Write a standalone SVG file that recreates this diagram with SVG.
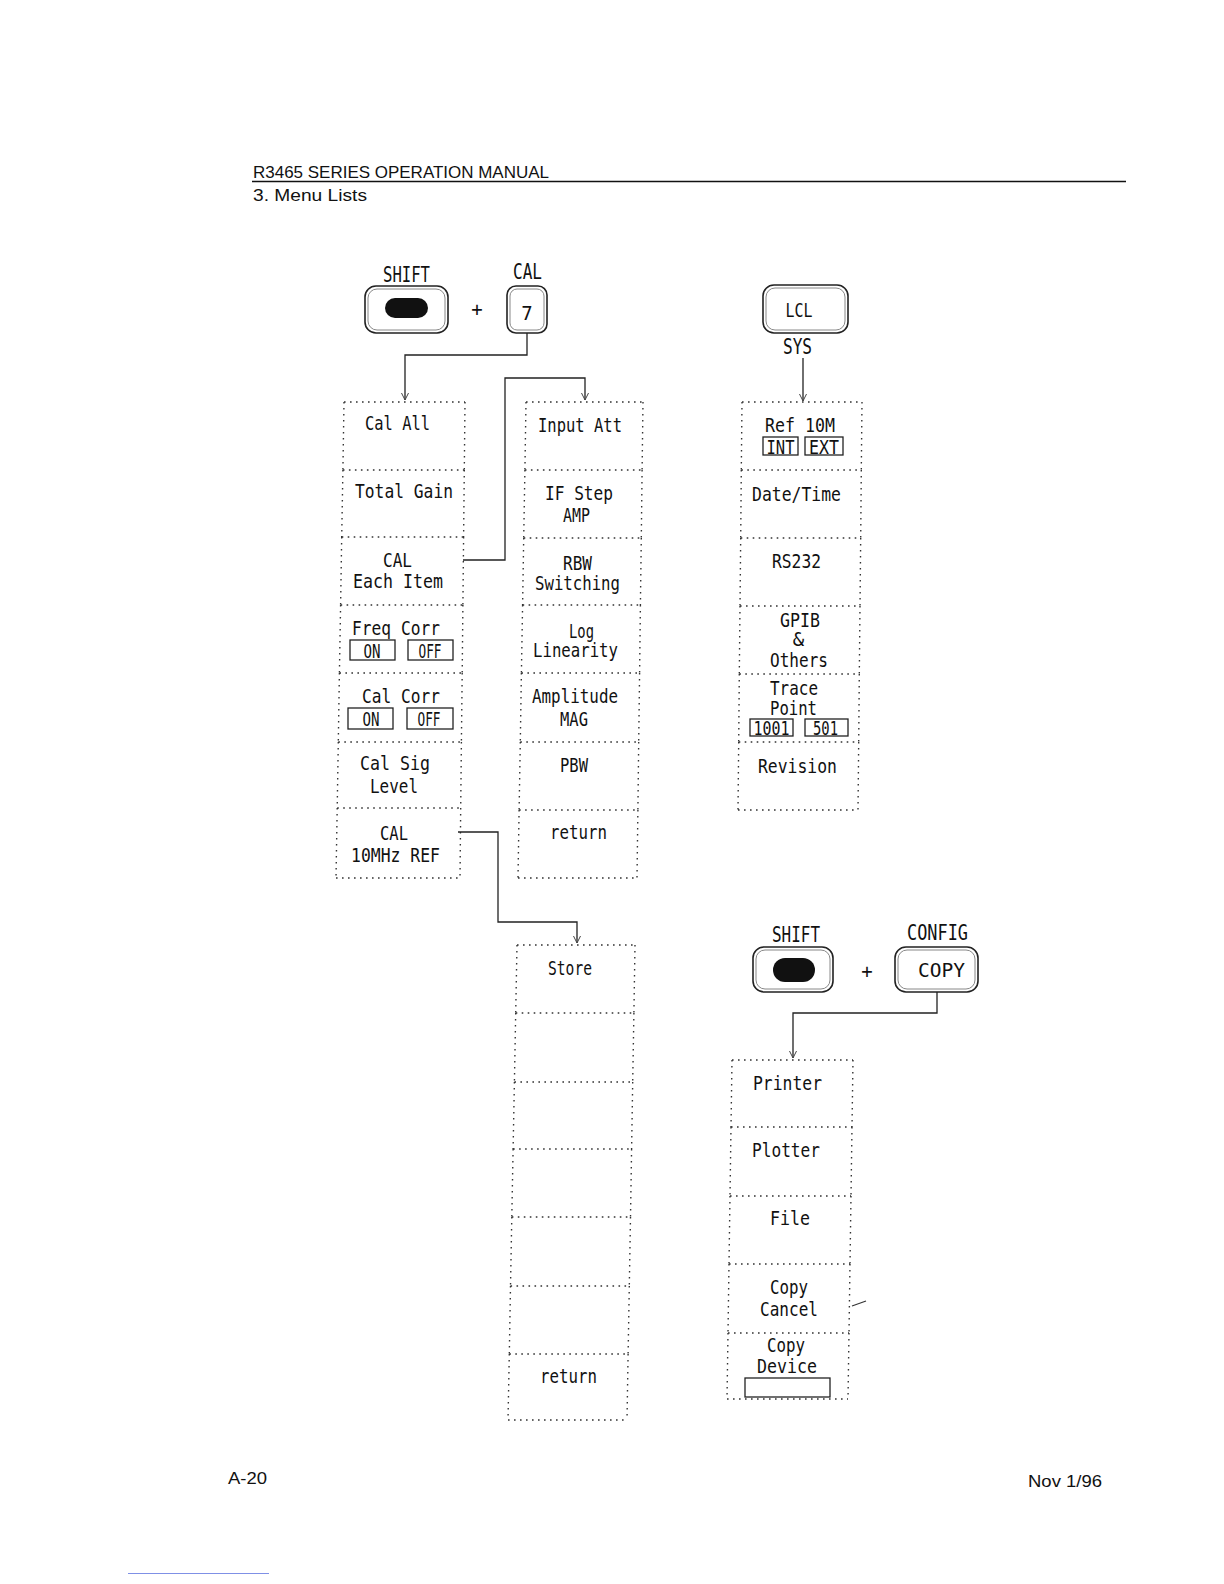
<svg xmlns="http://www.w3.org/2000/svg" width="1224" height="1584" viewBox="0 0 1224 1584">
<style>
.hdr{font-family:"Liberation Sans",Arial,sans-serif;font-size:17px;fill:#111}
.lb{font-family:"DejaVu Sans Mono","Liberation Mono",monospace;font-size:19px;fill:#111;text-anchor:middle}
.kl{font-family:"DejaVu Sans Mono","Liberation Mono",monospace;font-size:21px;fill:#111;text-anchor:middle}
.bx{font-family:"DejaVu Sans Mono","Liberation Mono",monospace;font-size:20px;fill:#111;text-anchor:middle}
.cell{fill:none;stroke:#333;stroke-width:1.4;stroke-dasharray:1.6 4.4}
.ob{fill:none;stroke:#222;stroke-width:1.3}
.key{fill:#fff;stroke:#222;stroke-width:1.6}
.keyin{fill:none;stroke:#888;stroke-width:1}
.pill{fill:#111}
.con{fill:none;stroke:#222;stroke-width:1.3}
</style>
<defs>
<marker id="arr" viewBox="0 0 8 8" refX="7" refY="4" markerWidth="8" markerHeight="8" markerUnits="userSpaceOnUse" orient="auto">
<path d="M0,0.5 L7,4 L0,7.5" fill="none" stroke="#444" stroke-width="1"/>
</marker>
</defs>
<rect width="1224" height="1584" fill="#fff"/>

<g id="header">
<text class="hdr" x="253" y="178" textLength="296" lengthAdjust="spacingAndGlyphs">R3465 SERIES OPERATION MANUAL</text>
<line x1="252" y1="181.5" x2="1126" y2="181.5" stroke="#111" stroke-width="1.3"/>
<text class="hdr" x="253" y="201" textLength="114" lengthAdjust="spacingAndGlyphs">3. Menu Lists</text>
</g>
<g id="footer">
<text class="hdr" x="228" y="1484" textLength="39" lengthAdjust="spacingAndGlyphs">A-20</text>
<text class="hdr" x="1028" y="1487" textLength="74" lengthAdjust="spacingAndGlyphs">Nov 1/96</text>
<line x1="128" y1="1573.5" x2="269" y2="1573.5" stroke="#7f90e6" stroke-width="1"/>
</g>

<!-- Keys -->
<g id="key-shift1">
<text class="kl" x="406.5" y="282" textLength="47" lengthAdjust="spacingAndGlyphs">SHIFT</text>
<rect class="key" x="365" y="286" width="83" height="47" rx="11"/>
<rect class="keyin" x="368" y="289" width="77" height="41" rx="9"/>
<rect class="pill" x="385" y="298" width="43" height="20" rx="10"/>
</g>
<text id="plus1" class="lb" x="477" y="316" font-size="16">+</text>
<g id="key-cal7">
<text class="kl" x="527.5" y="279" textLength="29" lengthAdjust="spacingAndGlyphs">CAL</text>
<rect class="key" x="507" y="286" width="40" height="47" rx="9"/>
<rect class="keyin" x="510" y="289" width="34" height="41" rx="7"/>
<text class="lb" x="527" y="320" font-size="17">7</text>
</g>
<g id="key-lcl">
<rect class="key" x="763" y="285" width="85" height="48" rx="11"/>
<rect class="keyin" x="766" y="288" width="79" height="42" rx="9"/>
<text class="lb" x="799" y="317" font-size="17" textLength="27" lengthAdjust="spacingAndGlyphs">LCL</text>
<text class="kl" x="797.5" y="354" textLength="29" lengthAdjust="spacingAndGlyphs">SYS</text>
</g>
<g id="key-shift2">
<text class="kl" x="796" y="942" textLength="48" lengthAdjust="spacingAndGlyphs">SHIFT</text>
<rect class="key" x="753" y="947" width="80" height="45" rx="11"/>
<rect class="keyin" x="756" y="950" width="74" height="39" rx="9"/>
<rect class="pill" x="773" y="958" width="42" height="24" rx="12"/>
</g>
<text id="plus2" class="lb" x="867" y="978" font-size="18">+</text>
<g id="key-copy">
<text class="kl" x="937.5" y="940" textLength="61" lengthAdjust="spacingAndGlyphs">CONFIG</text>
<rect class="key" x="895" y="947" width="83" height="45" rx="11"/>
<rect class="keyin" x="898" y="950" width="77" height="39" rx="9"/>
<text class="lb" x="941.5" y="977" textLength="47" lengthAdjust="spacingAndGlyphs">COPY</text>
</g>

<!-- Left column -->
<g id="cal-all">
<path class="cell" d="M344,402 L465,402 M344,402 L342.9,470 M465,402 L464.3,470"/>
<text class="lb" x="397.5" y="430" textLength="65" lengthAdjust="spacingAndGlyphs">Cal All</text>
</g>
<g id="total-gain">
<path class="cell" d="M342.9,470 L464.3,470 M342.9,470 L341.7,537 M464.3,470 L463.6,537"/>
<text class="lb" x="404" y="498" textLength="98" lengthAdjust="spacingAndGlyphs">Total Gain</text>
</g>
<g id="cal-each-item">
<path class="cell" d="M341.7,537 L463.6,537 M341.7,537 L340.6,605 M463.6,537 L462.9,605"/>
<text class="lb" x="397.5" y="567" textLength="29" lengthAdjust="spacingAndGlyphs">CAL</text>
<text class="lb" x="398" y="588" textLength="90" lengthAdjust="spacingAndGlyphs">Each Item</text>
</g>
<g id="freq-corr">
<path class="cell" d="M340.6,605 L462.9,605 M340.6,605 L339.4,673 M462.9,605 L462.2,673"/>
<text class="lb" x="396" y="635" textLength="88" lengthAdjust="spacingAndGlyphs">Freq Corr</text>
<rect class="ob" x="350" y="640" width="45" height="20"/>
<rect class="ob" x="408" y="640" width="45" height="20"/>
<text class="bx" x="372" y="658" textLength="17" lengthAdjust="spacingAndGlyphs">ON</text>
<text class="bx" x="430" y="658" textLength="23" lengthAdjust="spacingAndGlyphs">OFF</text>
</g>
<g id="cal-corr">
<path class="cell" d="M339.4,673 L462.2,673 M339.4,673 L338.3,742 M462.2,673 L461.4,742"/>
<text class="lb" x="401" y="703" textLength="78" lengthAdjust="spacingAndGlyphs">Cal Corr</text>
<rect class="ob" x="348" y="708" width="45" height="21"/>
<rect class="ob" x="407" y="708" width="46" height="21"/>
<text class="bx" x="371" y="726" textLength="17" lengthAdjust="spacingAndGlyphs">ON</text>
<text class="bx" x="429" y="726" textLength="23" lengthAdjust="spacingAndGlyphs">OFF</text>
</g>
<g id="cal-sig-level">
<path class="cell" d="M338.3,742 L461.4,742 M338.3,742 L337.2,808 M461.4,742 L460.7,808"/>
<text class="lb" x="395" y="770" textLength="70" lengthAdjust="spacingAndGlyphs">Cal Sig</text>
<text class="lb" x="394" y="793" textLength="48" lengthAdjust="spacingAndGlyphs">Level</text>
</g>
<g id="cal-10mhz-ref">
<path class="cell" d="M337.2,808 L460.7,808 M337.2,808 L336,878 M460.7,808 L460,878 M336,878 L460,878"/>
<text class="lb" x="394" y="840" textLength="28" lengthAdjust="spacingAndGlyphs">CAL</text>
<text class="lb" x="395.5" y="862" textLength="89" lengthAdjust="spacingAndGlyphs">10MHz REF</text>
</g>

<!-- Middle column -->
<g id="input-att">
<path class="cell" d="M526,402 L643,402 M526,402 L524.9,470 M643,402 L642.1,470"/>
<text class="lb" x="580" y="432" textLength="84" lengthAdjust="spacingAndGlyphs">Input Att</text>
</g>
<g id="if-step-amp">
<path class="cell" d="M524.9,470 L642.1,470 M524.9,470 L523.7,538 M642.1,470 L641.3,538"/>
<text class="lb" x="579" y="500" textLength="68" lengthAdjust="spacingAndGlyphs">IF Step</text>
<text class="lb" x="576.5" y="522" textLength="27" lengthAdjust="spacingAndGlyphs">AMP</text>
</g>
<g id="rbw-switching">
<path class="cell" d="M523.7,538 L641.3,538 M523.7,538 L522.6,605 M641.3,538 L640.4,605"/>
<text class="lb" x="577.5" y="570" textLength="29" lengthAdjust="spacingAndGlyphs">RBW</text>
<text class="lb" x="577.5" y="590" textLength="85" lengthAdjust="spacingAndGlyphs">Switching</text>
</g>
<g id="log-linearity">
<path class="cell" d="M522.6,605 L640.4,605 M522.6,605 L521.4,673 M640.4,605 L639.6,673"/>
<text class="lb" x="581.5" y="638" textLength="25" lengthAdjust="spacingAndGlyphs">Log</text>
<text class="lb" x="575.5" y="657" textLength="85" lengthAdjust="spacingAndGlyphs">Linearity</text>
</g>
<g id="amplitude-mag">
<path class="cell" d="M521.4,673 L639.6,673 M521.4,673 L520.3,742 M639.6,673 L638.7,742"/>
<text class="lb" x="575" y="703" textLength="86" lengthAdjust="spacingAndGlyphs">Amplitude</text>
<text class="lb" x="574" y="726" textLength="28" lengthAdjust="spacingAndGlyphs">MAG</text>
</g>
<g id="pbw">
<path class="cell" d="M520.3,742 L638.7,742 M520.3,742 L519.1,810 M638.7,742 L637.9,810"/>
<text class="lb" x="574" y="772" textLength="28" lengthAdjust="spacingAndGlyphs">PBW</text>
</g>
<g id="return-1">
<path class="cell" d="M519.1,810 L637.9,810 M519.1,810 L518,878 M637.9,810 L637,878 M518,878 L637,878"/>
<text class="lb" x="578.5" y="839" textLength="57" lengthAdjust="spacingAndGlyphs">return</text>
</g>

<!-- Right (SYS) column -->
<g id="ref-10m">
<path class="cell" d="M742,402 L862,402 M742,402 L741.3,470 M862,402 L861.3,470"/>
<text class="lb" x="800" y="432" textLength="70" lengthAdjust="spacingAndGlyphs">Ref 10M</text>
<rect class="ob" x="763" y="437" width="35" height="18"/>
<rect class="ob" x="805" y="437" width="38" height="18"/>
<text class="bx" x="780.5" y="454" textLength="28" lengthAdjust="spacingAndGlyphs">INT</text>
<text class="bx" x="824" y="454" textLength="30" lengthAdjust="spacingAndGlyphs">EXT</text>
</g>
<g id="date-time">
<path class="cell" d="M741.3,470 L861.3,470 M741.3,470 L740.7,538 M861.3,470 L860.7,538"/>
<text class="lb" x="796.5" y="501" textLength="89" lengthAdjust="spacingAndGlyphs">Date/Time</text>
</g>
<g id="rs232">
<path class="cell" d="M740.7,538 L860.7,538 M740.7,538 L740,606 M860.7,538 L860,606"/>
<text class="lb" x="796.5" y="568" textLength="49" lengthAdjust="spacingAndGlyphs">RS232</text>
</g>
<g id="gpib-others">
<path class="cell" d="M740,606 L860,606 M740,606 L739.3,674 M860,606 L859.3,674"/>
<text class="lb" x="800" y="627" textLength="40" lengthAdjust="spacingAndGlyphs">GPIB</text>
<text class="lb" x="798.5" y="646" font-size="14">&amp;</text>
<text class="lb" x="799" y="667" textLength="58" lengthAdjust="spacingAndGlyphs">Others</text>
</g>
<g id="trace-point">
<path class="cell" d="M739.3,674 L859.3,674 M739.3,674 L738.7,742 M859.3,674 L858.7,742"/>
<text class="lb" x="794" y="695" textLength="48" lengthAdjust="spacingAndGlyphs">Trace</text>
<text class="lb" x="793.5" y="715" textLength="47" lengthAdjust="spacingAndGlyphs">Point</text>
<rect class="ob" x="750" y="719" width="43" height="17"/>
<rect class="ob" x="805" y="719" width="43" height="17"/>
<text class="bx" x="771.5" y="735" font-size="18" textLength="36" lengthAdjust="spacingAndGlyphs">1001</text>
<text class="bx" x="825.5" y="735" font-size="18" textLength="25" lengthAdjust="spacingAndGlyphs">501</text>
</g>
<g id="revision">
<path class="cell" d="M738.7,742 L858.7,742 M738.7,742 L738,810 M858.7,742 L858,810 M738,810 L858,810"/>
<text class="lb" x="797.5" y="773" textLength="79" lengthAdjust="spacingAndGlyphs">Revision</text>
</g>

<!-- Store column -->
<g id="store">
<path class="cell" d="M517,945 L635,945 M517,945 L515.7,1013 M635,945 L633.9,1013"/>
<text class="lb" x="570" y="975" textLength="44" lengthAdjust="spacingAndGlyphs">Store</text>
</g>
<g id="store-blank-1">
<path class="cell" d="M515.7,1013 L633.9,1013 M515.7,1013 L514.4,1082 M633.9,1013 L632.7,1082"/>
</g>
<g id="store-blank-2">
<path class="cell" d="M514.4,1082 L632.7,1082 M514.4,1082 L513.1,1149 M632.7,1082 L631.6,1149"/>
</g>
<g id="store-blank-3">
<path class="cell" d="M513.1,1149 L631.6,1149 M513.1,1149 L511.8,1217 M631.6,1149 L630.5,1217"/>
</g>
<g id="store-blank-4">
<path class="cell" d="M511.8,1217 L630.5,1217 M511.8,1217 L510.5,1286 M630.5,1217 L629.3,1286"/>
</g>
<g id="store-blank-5">
<path class="cell" d="M510.5,1286 L629.3,1286 M510.5,1286 L509.3,1354 M629.3,1286 L628.1,1354"/>
</g>
<g id="return-2">
<path class="cell" d="M509.3,1354 L628.1,1354 M509.3,1354 L508,1420 M628.1,1354 L627,1420 M508,1420 L627,1420"/>
<text class="lb" x="568.5" y="1383" textLength="57" lengthAdjust="spacingAndGlyphs">return</text>
</g>

<!-- Copy column -->
<g id="printer">
<path class="cell" d="M732,1060 L853,1060 M732,1060 L731,1127 M853,1060 L852,1127"/>
<text class="lb" x="787.5" y="1090" textLength="69" lengthAdjust="spacingAndGlyphs">Printer</text>
</g>
<g id="plotter">
<path class="cell" d="M731,1127 L852,1127 M731,1127 L730,1196 M852,1127 L851,1196"/>
<text class="lb" x="786" y="1157" textLength="68" lengthAdjust="spacingAndGlyphs">Plotter</text>
</g>
<g id="file">
<path class="cell" d="M730,1196 L851,1196 M730,1196 L729,1264 M851,1196 L850,1264"/>
<text class="lb" x="790" y="1225" textLength="40" lengthAdjust="spacingAndGlyphs">File</text>
</g>
<g id="copy-cancel">
<path class="cell" d="M729,1264 L850,1264 M729,1264 L728,1333 M850,1264 L849,1333"/>
<text class="lb" x="789" y="1294" textLength="38" lengthAdjust="spacingAndGlyphs">Copy</text>
<text class="lb" x="789" y="1316" textLength="58" lengthAdjust="spacingAndGlyphs">Cancel</text>
<path d="M852,1306 L866,1301" stroke="#333" stroke-width="1.2" fill="none"/>
</g>
<g id="copy-device">
<path class="cell" d="M728,1333 L849,1333 M728,1333 L727,1399 M849,1333 L848,1399 M727,1399 L848,1399"/>
<text class="lb" x="786" y="1352" textLength="38" lengthAdjust="spacingAndGlyphs">Copy</text>
<text class="lb" x="787" y="1373" textLength="60" lengthAdjust="spacingAndGlyphs">Device</text>
<rect class="ob" x="745" y="1378" width="85" height="19"/>
</g>

<!-- Connectors -->
<g id="connectors">
<path class="con" d="M527,333 V355 H405 V400" marker-end="url(#arr)"/>
<path class="con" d="M463,560 H505 V378 H585 V400" marker-end="url(#arr)"/>
<path class="con" d="M803,358 V401" marker-end="url(#arr)"/>
<path class="con" d="M458,832 H498 V922 H577 V943" marker-end="url(#arr)"/>
<path class="con" d="M937,992 V1013 H793 V1058" marker-end="url(#arr)"/>
</g>
</svg>
